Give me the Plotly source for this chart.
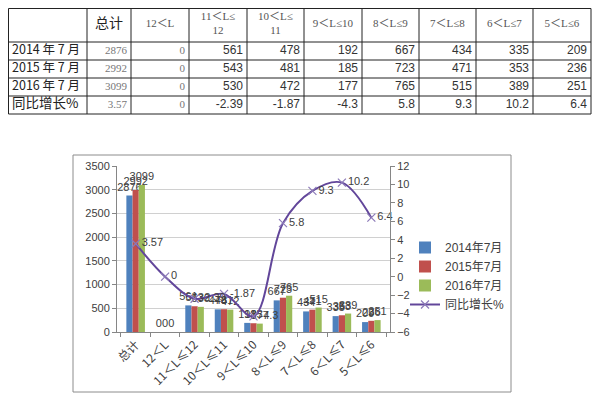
import plotly.graph_objects as go

categories = ["总计", "12＜L", "11＜L≤12", "10＜L≤11", "9＜L≤10", "8＜L≤9", "7＜L≤8", "6＜L≤7", "5＜L≤6"]
table_headers = ["总计", "12＜L", "11＜L≤<br>12", "10＜L≤<br>11", "9＜L≤10", "8＜L≤9", "7＜L≤8", "6＜L≤7", "5＜L≤6"]
row_labels = ["2014 年 7 月", "2015 年 7 月", "2016 年 7 月", "同比增长%"]
series_names = ["2014年7月", "2015年7月", "2016年7月"]
line_name = "同比增长%"
v2014 = [2876, 0, 561, 478, 192, 667, 434, 335, 209]
v2015 = [2992, 0, 543, 481, 185, 723, 471, 353, 236]
v2016 = [3099, 0, 530, 472, 177, 765, 515, 389, 251]
yoy = [3.57, 0, -2.39, -1.87, -4.3, 5.8, 9.3, 10.2, 6.4]

bar_colors = ["#4F81BD", "#C0504D", "#9BBB59"]
line_color = "#62469A"
# page body has an 8px margin; figure is sized so that it fills the window exactly
OFF = 8
W, H = 600 - OFF, 399 - OFF

# table grid geometry (window pixels); right edge pulled in so it is not clipped
col_bounds = [3, 87, 131, 189, 247, 304, 362, 419, 476, 533, 591]
row_bounds = [7, 42, 60, 78, 96, 114]
T_LEFT, T_RIGHT, T_TOP, T_BOTTOM = OFF, 592, OFF, 115


def px(x):
    return min(max((x - OFF) / W, 0), 1)


def py(y):
    return min(max(1 - (y - OFF) / H, 0), 1)


def fmt(v):
    return f"{v:g}"


fig = go.Figure()

# ---- table (drawn on its own hidden pixel-unit axes) ----
series = [v2014, v2015, v2016, yoy]
ncol = len(categories)
head_x = [(col_bounds[j + 1] + col_bounds[j + 2]) / 2 for j in range(ncol)]
head_y = [(row_bounds[0] + row_bounds[1]) / 2] * ncol
row_y = [(row_bounds[i + 1] + row_bounds[i + 2]) / 2 for i in range(len(row_labels))]

fig.add_trace(go.Scatter(
    x=head_x, y=head_y, text=table_headers, mode="text", textposition="middle center",
    xaxis="x3", yaxis="y3", showlegend=False, hoverinfo="skip",
    textfont=dict(family=["Noto Sans CJK SC"] + ["Liberation Serif, Noto Sans CJK SC"] * (ncol - 1),
                  size=[14] + [11] * (ncol - 1), color=["#222222"] + ["#555555"] * (ncol - 1)),
))
fig.add_trace(go.Scatter(
    x=[col_bounds[0] + 9] * len(row_labels), y=row_y, text=row_labels, mode="text",
    textposition="middle right", xaxis="x3", yaxis="y3", showlegend=False, hoverinfo="skip",
    textfont=dict(family="Noto Sans CJK SC", size=[12.5, 12.5, 12.5, 13.5], color="#222222"),
))
nx, ny, nt, nf, ns, nc = [], [], [], [], [], []
for j in range(ncol):
    for i, s in enumerate(series):
        nx.append(col_bounds[j + 2] - 4)
        ny.append(row_y[i])
        nt.append(fmt(s[j]))
        small = j < 2
        nf.append("Liberation Serif" if small else "Liberation Sans")
        ns.append(11 if small else 12)
        nc.append("#777777" if small else "#333333")
fig.add_trace(go.Scatter(
    x=nx, y=ny, text=nt, mode="text", textposition="middle left",
    xaxis="x3", yaxis="y3", showlegend=False, hoverinfo="skip",
    textfont=dict(family=nf, size=ns, color=nc),
))

# table rules as shapes on the table axes
grid_dark = "#222222"
shapes = []
for c in col_bounds:
    xc = min(max(c, T_LEFT + 0.5), T_RIGHT - 0.5)
    shapes.append(dict(type="line", xref="x3", yref="y3", x0=xc, x1=xc,
                       y0=max(row_bounds[0], T_TOP + 0.5), y1=row_bounds[-1],
                       line=dict(color=grid_dark, width=1), layer="above"))
for r in row_bounds:
    yr = max(r, T_TOP + 0.5)
    shapes.append(dict(type="line", xref="x3", yref="y3", x0=T_LEFT + 0.5, x1=col_bounds[-1],
                       y0=yr, y1=yr, line=dict(color=grid_dark, width=1), layer="above"))

# ---- bars ----
for name, vals, col in zip(series_names, [v2014, v2015, v2016], bar_colors):
    fig.add_trace(go.Bar(
        x=categories, y=vals, name=name, marker=dict(color=col, line=dict(width=0)),
        text=[fmt(v) for v in vals], textposition="outside", textangle=0,
        constraintext="none", cliponaxis=False,
        textfont=dict(family="Liberation Sans", size=11, color="#404040"),
    ))

fig.add_trace(go.Scatter(
    x=categories, y=yoy, name=line_name, yaxis="y2", mode="lines+markers+text",
    line=dict(color=line_color, width=2, shape="spline"),
    marker=dict(symbol="x-thin", size=8, line=dict(color="#8C7AB8", width=1.2), color="#8C7AB8"),
    text=[fmt(v) for v in yoy], textposition="middle right", cliponaxis=False,
    textfont=dict(family="Liberation Sans", size=11, color="#404040"),
))

axis_col = "#868686"
tick_font = dict(family="Liberation Sans, Noto Sans CJK SC", size=11, color="#404040")

shapes.append(dict(type="rect", xref="paper", yref="paper", x0=px(73), x1=px(511),
                   y0=py(392), y1=py(155), line=dict(color="#8C8C8C", width=1), layer="below"))

fig.update_layout(
    width=W, height=H, template="none",
    margin=dict(l=0, r=0, t=0, b=0),
    paper_bgcolor="white", plot_bgcolor="rgba(0,0,0,0)",
    barmode="group", bargap=0.37, bargroupgap=0,
    xaxis=dict(domain=[px(117), px(390)], type="category", showline=True, linecolor=axis_col,
               ticks="outside", tickson="boundaries", ticklen=4, tickcolor=axis_col,
               tickangle=-45, tickfont=dict(family="Noto Sans CJK SC", size=12, color="#404040"),
               showgrid=False, automargin=False, zeroline=False),
    yaxis=dict(domain=[py(332), py(166)], range=[0, 3500], dtick=500, showline=True, linecolor=axis_col,
               ticks="outside", ticklen=4, tickcolor=axis_col, tickfont=tick_font,
               showgrid=True, gridcolor="#D0D0D0", gridwidth=1, zeroline=False, automargin=False),
    yaxis2=dict(overlaying="y", side="right", range=[-6, 12], dtick=2, showline=True,
                linecolor=axis_col, ticks="outside", ticklen=4, tickcolor=axis_col, tickfont=tick_font,
                showgrid=False, zeroline=False, automargin=False),
    xaxis3=dict(domain=[px(T_LEFT), px(T_RIGHT)], anchor="y3", range=[T_LEFT, T_RIGHT],
                visible=False, fixedrange=True),
    yaxis3=dict(domain=[py(T_BOTTOM), py(T_TOP)], anchor="x3", range=[T_BOTTOM, T_TOP],
                visible=False, fixedrange=True),
    legend=dict(x=px(405), y=py(233), xanchor="left", yanchor="top", bgcolor="rgba(0,0,0,0)",
                font=dict(family="Liberation Sans, Noto Sans CJK SC", size=12, color="#404040"),
                itemwidth=30, tracegroupgap=0),
    showlegend=True,
    shapes=shapes,
)

fig.write_html("out.html")
